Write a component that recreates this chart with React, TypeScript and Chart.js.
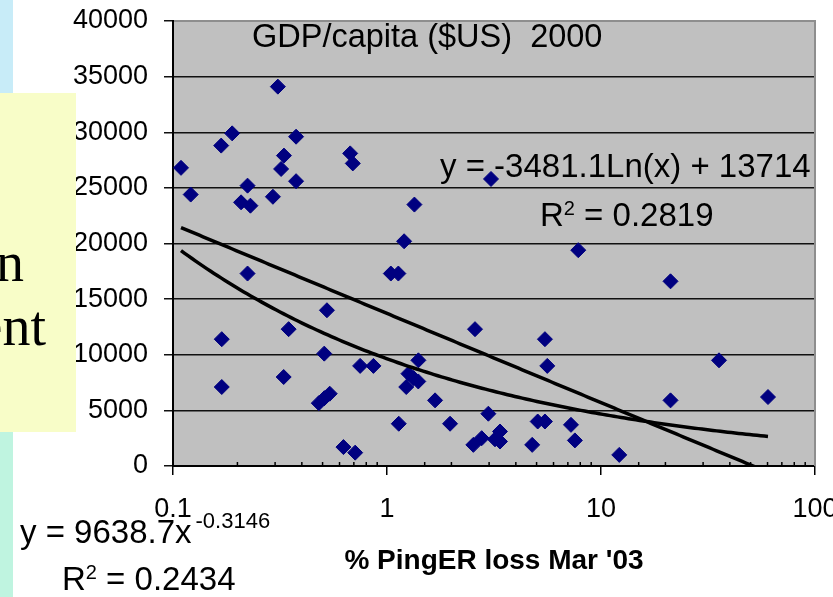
import React, { useEffect, useRef } from "react";
import { Chart, registerables } from "chart.js";

Chart.register(...registerables);

const FONT = "'Liberation Sans', Arial, Helvetica, sans-serif";
const SERIF = "'Liberation Serif', 'Times New Roman', serif";

// % PingER loss, March 2003 (x, log scale)
const lossPct = [
  0.309, 0.189, 0.168, 0.376, 0.109, 0.121, 0.33, 0.32, 0.376, 0.223,
  0.208, 0.23, 0.293, 0.673, 0.692, 1.343, 1.202, 3.062, 0.223, 0.169,
  0.169, 0.347, 0.329, 0.524, 0.509, 0.54, 0.51, 0.48, 0.626, 0.71,
  0.749, 0.864, 1.042, 1.13, 1.402, 1.26, 1.33, 1.4, 1.23, 1.677,
  1.135, 1.971, 2.578, 2.976, 2.532, 2.77, 3.196, 3.373, 3.373, 7.83,
  21.13, 5.47, 5.61, 35.6, 21.13, 60.3, 5.06, 5.47, 7.24, 7.55,
  4.77, 12.17,
];
// GDP per capita ($US, 2000) (y)
const gdpPerCapita = [
  34100, 29900, 28800, 29600, 26800, 24400, 27900, 26700, 25600, 25200,
  23700, 23400, 24200, 28100, 27200, 23500, 20200, 25800, 17300, 11400,
  7100, 12300, 8000, 14000, 10100, 6500, 6100, 5650, 1700, 1200,
  9000, 9000, 17300, 17300, 9500, 8300, 7900, 7600, 7100, 5900,
  3800, 3800, 12300, 4700, 1900, 2500, 2400, 3100, 2200, 19400,
  16600, 11400, 9000, 9500, 5900, 6200, 4000, 4000, 3700, 2300,
  1900, 1000,
];

const xTickLabels = ["0.1", "1", "10", "100"];
const X_MIN = 0.1;
const X_MAX = 100;
const Y_MIN = 0;
const Y_MAX = 40000;
const Y_STEP = 5000;

const chartTitle = "GDP/capita ($US)  2000";
const xAxisTitle = "% PingER loss Mar '03";

// Trendlines as printed on the chart
const logFit = { a: -3481.1, b: 13714, r2: "0.2819" };
const powerFit = { a: 9638.7, b: -0.3146, r2: "0.2434" };

const CANVAS_W = 860;
const CANVAS_H = 597;

function isDecade(v: number) {
  const l = Math.log10(v);
  return Math.abs(l - Math.round(l)) < 1e-6;
}

function trendPoints(fn: (x: number) => number) {
  const lo = Math.log10(Math.min(...lossPct));
  const hi = Math.log10(Math.max(...lossPct));
  const pts: { x: number; y: number }[] = [];
  const n = 160;
  for (let i = 0; i <= n; i++) {
    const x = Math.pow(10, lo + ((hi - lo) * i) / n);
    pts.push({ x, y: fn(x) });
  }
  return pts;
}

type Run = [string, number, number, number?];
function drawRuns(ctx: CanvasRenderingContext2D, x: number, baseline: number, runs: Run[]) {
  let cx = x;
  for (const [t, size, rise, gap] of runs) {
    cx += gap || 0;
    ctx.font = `${size}px ${FONT}`;
    ctx.fillText(t, cx, baseline - rise);
    cx += ctx.measureText(t).width;
  }
}

const framePlugin = {
  id: "frame",
  beforeDraw(chart: any) {
    const { ctx, chartArea: a } = chart;
    ctx.save();
    ctx.fillStyle = "#c0c0c0";
    ctx.fillRect(a.left, a.top, a.right - a.left, a.bottom - a.top);
    ctx.restore();
  },
  beforeDatasetsDraw(chart: any) {
    const { ctx, chartArea: a } = chart;
    const xs = chart.scales.x;
    ctx.save();
    // light frame on top and right
    ctx.strokeStyle = "#8e8e8e";
    ctx.lineWidth = 2;
    ctx.beginPath();
    ctx.moveTo(a.left + 1, a.top);
    ctx.lineTo(a.right, a.top);
    ctx.lineTo(a.right, a.bottom);
    ctx.stroke();
    // minor ticks on the log axis (inside)
    ctx.strokeStyle = "#000";
    ctx.lineWidth = 1.5;
    for (const t of xs.ticks) {
      if (isDecade(t.value)) continue;
      const px = xs.getPixelForValue(t.value);
      ctx.beginPath();
      ctx.moveTo(px, a.bottom - 4);
      ctx.lineTo(px, a.bottom);
      ctx.stroke();
    }
    // texts
    ctx.fillStyle = "#000";
    ctx.textAlign = "left";
    ctx.textBaseline = "alphabetic";
    drawRuns(ctx, a.left + 79, a.top + 26, [[chartTitle, 32.5, 0]]);
    drawRuns(ctx, a.left + 267, a.top + 156, [[`y = ${logFit.a}Ln(x) + ${logFit.b}`, 33, 0]]);
    drawRuns(ctx, a.left + 367, a.top + 205, [["R", 33, 0], ["2", 20, 11], [` = ${logFit.r2}`, 33, 0]]);
    drawRuns(ctx, 20, 543, [[`y = ${powerFit.a}x`, 33, 0], [`${powerFit.b}`, 22, 15, 4]]);
    drawRuns(ctx, 62, 590, [["R", 33, 0], ["2", 20, 11], [` = ${powerFit.r2}`, 33, 0]]);
    ctx.restore();
  },
};

export default function App() {
  const ref = useRef<HTMLCanvasElement>(null);

  useEffect(() => {
    const canvas = ref.current;
    if (!canvas) return;
    const points = lossPct.map((x, i) => ({ x, y: gdpPerCapita[i] }));
    const chart = new Chart(canvas, {
      type: "scatter",
      data: {
        datasets: [
          {
            label: "Log trend",
            data: trendPoints((x) => logFit.a * Math.log(x) + logFit.b),
            showLine: true,
            borderColor: "#000",
            borderWidth: 3.5,
            pointRadius: 0,
            tension: 0,
          } as any,
          {
            label: "Power trend",
            data: trendPoints((x) => powerFit.a * Math.pow(x, powerFit.b)),
            showLine: true,
            borderColor: "#000",
            borderWidth: 3.5,
            pointRadius: 0,
            tension: 0,
          } as any,
          {
            label: "GDP/capita",
            data: points,
            pointStyle: "rectRot",
            pointRadius: 7.5,
            backgroundColor: "#000080",
            borderColor: "#000080",
            borderWidth: 1,
          },
        ],
      },
      options: {
        responsive: false,
        animation: false,
        devicePixelRatio: 1,
        events: [],
        layout: { padding: { left: 0, top: 21, right: CANVAS_W - 815, bottom: 0 } },
        plugins: { legend: { display: false }, tooltip: { enabled: false }, title: { display: false } },
        scales: {
          x: {
            type: "logarithmic",
            min: X_MIN,
            max: X_MAX,
            position: "bottom",
            afterFit: (s: any) => {
              s.height = 131;
              s.paddingLeft = 0;
              s.paddingRight = 0;
            },
            border: { display: true, color: "#000", width: 2 },
            grid: {
              drawOnChartArea: false,
              drawTicks: true,
              tickLength: 9,
              lineWidth: 1.5,
              color: (c: any) => (c.tick && isDecade(c.tick.value) ? "#000" : "rgba(0,0,0,0)"),
            },
            ticks: {
              autoSkip: false,
              maxRotation: 0,
              minRotation: 0,
              padding: 18,
              color: "#000",
              font: { family: FONT, size: 27 },
              callback: (v: any) => {
                const n = Number(v);
                if (!isDecade(n)) return "";
                const lab = xTickLabels.find((l) => Math.abs(Number(l) - n) < 1e-9 * Math.max(1, n));
                return lab ?? "";
              },
            },
            title: {
              display: true,
              text: xAxisTitle,
              color: "#000",
              font: { family: FONT, size: 28, weight: "bold" },
              padding: { top: 0, bottom: 19 },
            },
          },
          y: {
            type: "linear",
            min: Y_MIN,
            max: Y_MAX,
            afterFit: (s: any) => {
              s.width = 173;
              s.paddingTop = 0;
              s.paddingBottom = 0;
            },
            border: { display: true, color: "#000", width: 2 },
            grid: { color: "#111", lineWidth: 1.5, tickLength: 9, drawTicks: true },
            ticks: {
              stepSize: Y_STEP,
              padding: 16,
              color: "#000",
              font: { family: FONT, size: 27 },
              callback: (v: any) => String(v),
            },
          },
        },
      } as any,
      plugins: [framePlugin],
    });
    return () => chart.destroy();
  }, []);

  return (
    <div
      style={{
        position: "fixed",
        left: 0,
        top: 0,
        width: 833,
        height: 597,
        overflow: "hidden",
        background: "#ffffff",
      }}
    >
      <canvas
        ref={ref}
        width={CANVAS_W}
        height={CANVAS_H}
        style={{ position: "absolute", left: 0, top: 0, width: CANVAS_W, height: CANVAS_H }}
      />
      <div
        style={{
          position: "absolute",
          left: 0,
          top: 0,
          width: 13,
          height: 597,
          background: "linear-gradient(to bottom, #c8ecf8 0px, #c8ecf8 100px, #bff4e0 430px, #bff4e0 597px)",
        }}
      />
      <div
        style={{
          position: "absolute",
          left: 0,
          top: 93,
          width: 76,
          height: 339,
          background: "#f8fdc8",
          overflow: "hidden",
          fontFamily: SERIF,
          fontSize: 56,
          lineHeight: "56px",
          color: "#000",
        }}
      >
        <span style={{ position: "absolute", right: 52, top: 234 - 93, whiteSpace: "nowrap" }}>n</span>
        <span style={{ position: "absolute", right: 30, top: 298 - 93, whiteSpace: "nowrap" }}>ent</span>
      </div>
    </div>
  );
}
